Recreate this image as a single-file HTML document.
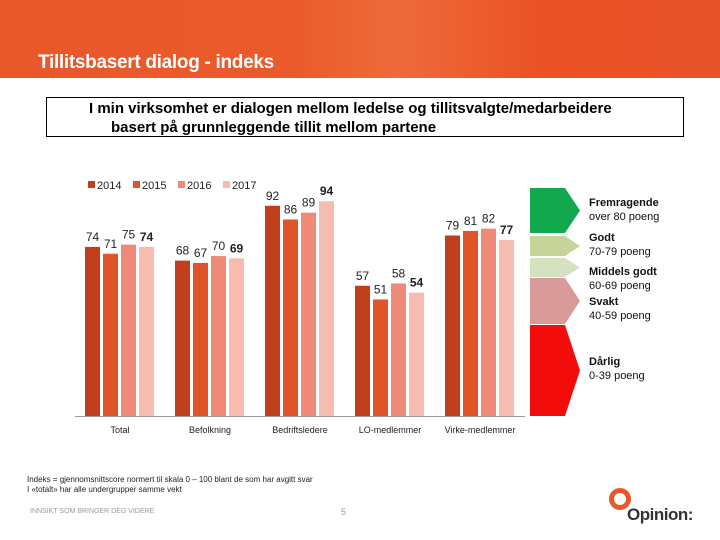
<!DOCTYPE html>
<html><head><meta charset="utf-8"><style>
body{margin:0;width:720px;height:540px;overflow:hidden;background:#fff;font-family:"Liberation Sans",sans-serif;position:relative}
.abs{position:absolute}
</style></head><body>
<div class="abs" style="left:0;top:0;width:720px;height:78px;background:linear-gradient(90deg,#e8582a 0%,#ea5a2a 40%,#ee6a3a 55%,#ea5226 75%,#e9532a 100%)"></div>
<div class="abs" style="left:38px;top:52px;color:#fff;font-size:19px;font-weight:bold;letter-spacing:-0.3px">Tillitsbasert dialog - indeks</div>
<div class="abs" style="left:46px;top:97px;width:638px;height:40px;border:1px solid #000;box-sizing:border-box;font-weight:bold;font-size:15px;line-height:19px;padding:1px 0 0 42px">I min virksomhet er dialogen mellom ledelse og tillitsvalgte/medarbeidere<br><span style="padding-left:22px">basert på grunnleggende tillit mellom partene</span></div>
<svg class="abs" style="left:0;top:0" width="720" height="540">
<g id="legend"></g><g id="bars"></g>
<line x1="75" x2="525" y1="416.5" y2="416.5" stroke="#999"/>
<g id="scale"></g>
</svg>
<div class="abs" style="left:27px;top:475px;font-size:8px;line-height:10px;color:#222">Indeks = gjennomsnittscore normert til skala 0 – 100 blant de som har avgitt svar<br>I «totalt» har alle undergrupper samme vekt</div>
<div class="abs" style="left:30px;top:508px;font-size:7px;color:#999">INNSIKT SOM BRINGER DEG VIDERE</div>
<div class="abs" style="left:341px;top:507px;font-size:9px;color:#999">5</div>
<div class="abs" style="left:609px;top:488px;width:12px;height:12px;border:5px solid #e8582a;border-radius:50%"></div>
<div class="abs" style="left:627px;top:505px;font-size:17px;color:#333;font-weight:bold;letter-spacing:-0.5px">Opinion:</div>
<script>
const categories=["Total","Befolkning","Bedriftsledere","LO-medlemmer","Virke-medlemmer"];
const years=["2014","2015","2016","2017"];
const v2014=[74,68,92,57,79];
const v2015=[71,67,86,51,81];
const v2016=[75,70,89,58,82];
const v2017=[74,69,94,54,77];
const series=[v2014,v2015,v2016,v2017];
const colors=["#c0401e","#e0542a","#f08a78","#f7bcb0"];
const NS="http://www.w3.org/2000/svg";
const x0=75,gw=90,y0=416,k=2.285;
const yS=v=>y0-v*k;
function mk(t,a,p){const e=document.createElementNS(NS,t);for(const q in a)e.setAttribute(q,a[q]);p.appendChild(e);return e;}
const bars=document.getElementById('bars'),lg=document.getElementById('legend'),sc=document.getElementById('scale');
categories.forEach((c,i)=>{
 const cx=x0+gw*i+gw/2;
 series.forEach((s,j)=>{
  const bx=cx-36+j*18+1;
  const r=mk('rect',{x:bx,y:yS(s[i]),width:15,height:s[i]*k,fill:colors[j]},bars);
  
  
  const t=mk('text',{x:bx+7.5,y:yS(s[i])-6,'text-anchor':'middle','font-size':12,fill:'#222','font-weight':j==3?'bold':'normal'},bars);
  t.textContent=s[i];
  
  
 });
 const l=mk('text',{x:cx,y:433,'text-anchor':'middle','font-size':9,fill:'#222'},bars);
 l.textContent=c;
 
 
});
years.forEach((y,j)=>{
 const x=88+j*45;
 const r=mk('rect',{x:x,y:181,width:7,height:7,fill:colors[j]},lg);
 
 
 const t=mk('text',{x:x+9,y:189,'font-size':11,fill:'#222'},lg);
 t.textContent=y;
 
 
});
const bands=[[188,233,"#12a84e"],[236,256,"#c6d49a"],[258,277,"#d5e2bf"],[278,324,"#d99a9a"],[325,416,"#f20c0c"]];
bands.forEach((b,i)=>{
 const[a,e,col]=b,m=(a+e)/2;
 const p=mk('polygon',{points:`530,${a} 565,${a} 580,${m} 565,${e} 530,${e}`,fill:col},sc);
 
 
});
const labs=[[589,206,"Fremragende","over 80 poeng"],[589,241,"Godt","70-79 poeng"],[589,275,"Middels godt","60-69 poeng"],[589,305,"Svakt","40-59 poeng"],[589,365,"Dårlig","0-39 poeng"]];
labs.forEach(l=>{
 const t=mk('text',{x:l[0],y:l[1],'font-size':11,'font-weight':'bold',fill:'#111'},sc);t.textContent=l[2];
 
 
 const u=mk('text',{x:l[0],y:l[1]+14,'font-size':11,fill:'#111'},sc);u.textContent=l[3];
 
 
});
</script>
</body></html>
